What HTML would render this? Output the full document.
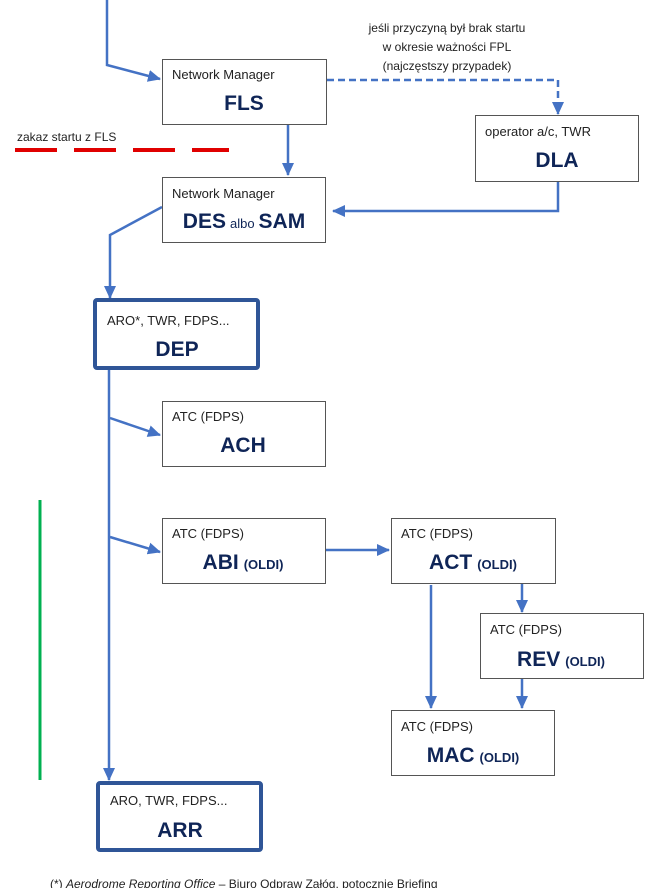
<!DOCTYPE html>
<html><head><meta charset="utf-8"><style>
body{margin:0;background:#fff;width:648px;height:888px;overflow:hidden;font-family:"Liberation Sans","DejaVu Sans",sans-serif}
svg text{font-family:"Liberation Sans","DejaVu Sans",sans-serif}
.s{font-size:13px;fill:#222}
.b{font-size:21px;font-weight:bold;fill:#0f2557}
.o{font-size:13px;font-weight:bold;fill:#0f2557}
</style></head><body>
<svg width="648" height="888" viewBox="0 0 648 888">
<defs><marker id="a" markerWidth="14" markerHeight="14" refX="12" refY="7" orient="auto" markerUnits="userSpaceOnUse"><path d="M0,1 L13,7 L0,13z" fill="#4472c4"/></marker></defs>
<g fill="none" stroke="#4472c4" stroke-width="2.5">
<polyline points="107,0 107,65 160,79" marker-end="url(#a)"/>
<line x1="288" y1="125" x2="288" y2="175" marker-end="url(#a)"/>
<polyline points="327,80 558,80 558,114" stroke-dasharray="7,4" marker-end="url(#a)"/>
<polyline points="558,182 558,211 333,211" marker-end="url(#a)"/>
<polyline points="162,207 110,235 110,298" marker-end="url(#a)"/>
<line x1="109" y1="370" x2="109" y2="780" marker-end="url(#a)"/>
<line x1="110" y1="418" x2="160" y2="435" marker-end="url(#a)"/>
<line x1="110" y1="537" x2="160" y2="552" marker-end="url(#a)"/>
<line x1="326" y1="550" x2="389" y2="550" marker-end="url(#a)"/>
<line x1="431" y1="585" x2="431" y2="708" marker-end="url(#a)"/>
<line x1="522" y1="584" x2="522" y2="612" marker-end="url(#a)"/>
<line x1="522" y1="679" x2="522" y2="708" marker-end="url(#a)"/>
</g>
<line x1="40" y1="500" x2="40" y2="780" stroke="#00b050" stroke-width="3"/>
<line x1="15" y1="150" x2="229" y2="150" stroke="#e00000" stroke-width="4" stroke-dasharray="42,17"/>
<text x="17" y="141" class="s" style="font-size:12px">zakaz startu z FLS</text>
<g text-anchor="middle">
<text x="447" y="32" class="s" style="font-size:12px">jeśli przyczyną był brak startu</text>
<text x="447" y="51" class="s" style="font-size:12px">w okresie ważności FPL</text>
<text x="447" y="70" class="s" style="font-size:12px">(najczęstszy przypadek)</text>
</g>
<g fill="#fff" stroke="#555" stroke-width="1">
<rect x="162.5" y="59.5" width="164" height="65"/>
<rect x="475.5" y="115.5" width="163" height="66"/>
<rect x="162.5" y="177.5" width="163" height="65"/>
<rect x="162.5" y="401.5" width="163" height="65"/>
<rect x="162.5" y="518.5" width="163" height="65"/>
<rect x="391.5" y="518.5" width="164" height="65"/>
<rect x="480.5" y="613.5" width="163" height="65"/>
<rect x="391.5" y="710.5" width="163" height="65"/>
</g>
<g fill="#fff" stroke="#2f5597" stroke-width="4">
<rect x="95" y="300" width="163" height="68" rx="2"/>
<rect x="98" y="783" width="163" height="67" rx="2"/>
</g>
<text x="172" y="79" class="s">Network Manager</text>
<text x="244" y="110" class="b" text-anchor="middle">FLS</text>
<text x="485" y="136" class="s">operator a/c, TWR</text>
<text x="557" y="167" class="b" text-anchor="middle">DLA</text>
<text x="172" y="198" class="s">Network Manager</text>
<text x="244" y="228" text-anchor="middle"><tspan class="b">DES</tspan><tspan class="s" style="fill:#0f2557" dx="4">albo</tspan><tspan class="b" dx="4">SAM</tspan></text>
<text x="107" y="325" class="s">ARO*, TWR, FDPS...</text>
<text x="177" y="356" class="b" text-anchor="middle">DEP</text>
<text x="172" y="421" class="s">ATC (FDPS)</text>
<text x="243" y="452" class="b" text-anchor="middle">ACH</text>
<text x="172" y="538" class="s">ATC (FDPS)</text>
<text x="243" y="569" text-anchor="middle"><tspan class="b">ABI</tspan><tspan class="o" dx="5">(OLDI)</tspan></text>
<text x="401" y="538" class="s">ATC (FDPS)</text>
<text x="473" y="569" text-anchor="middle"><tspan class="b">ACT</tspan><tspan class="o" dx="5">(OLDI)</tspan></text>
<text x="490" y="634" class="s">ATC (FDPS)</text>
<text x="561" y="666" text-anchor="middle"><tspan class="b">REV</tspan><tspan class="o" dx="5">(OLDI)</tspan></text>
<text x="401" y="731" class="s">ATC (FDPS)</text>
<text x="473" y="762" text-anchor="middle"><tspan class="b">MAC</tspan><tspan class="o" dx="5">(OLDI)</tspan></text>
<text x="110" y="805" class="s">ARO, TWR, FDPS...</text>
<text x="180" y="837" class="b" text-anchor="middle">ARR</text>
<text x="50" y="888" class="s" style="font-size:12px">(*) <tspan font-style="italic">Aerodrome Reporting Office</tspan> – Biuro Odpraw Załóg, potocznie Briefing</text>
</svg>
</body></html>
